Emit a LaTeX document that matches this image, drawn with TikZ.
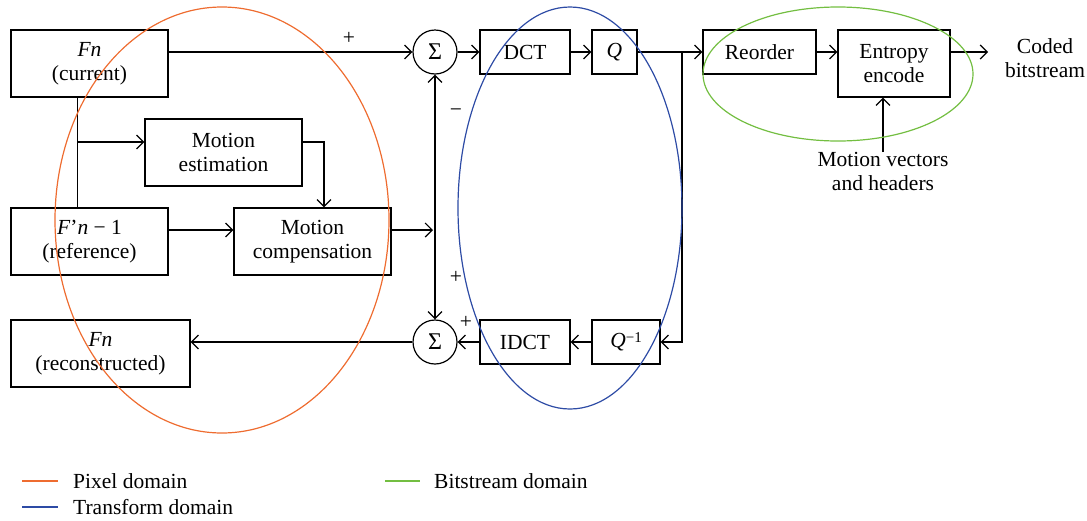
\documentclass[tikz,border=0pt]{standalone}
\usepackage{fontspec}
\setmainfont{Liberation Serif}
\usetikzlibrary{arrows.meta,calc}
\definecolor{pixcol}{RGB}{238,108,48}
\definecolor{trcol}{RGB}{45,75,165}
\definecolor{bitcol}{RGB}{115,190,65}
\begin{document}
\begin{tikzpicture}[x=1pt,y=-1pt,
  txt/.style={font=\fontsize{21.5}{24}\selectfont},
  box/.style={txt,draw,line width=1.2pt,inner sep=0pt,align=center},
  sumnode/.style={txt,draw,circle,line width=1.2pt,minimum size=44pt,inner sep=0pt},
  ln/.style={line width=1.2pt},
  arr/.style={ln,-{Straight Barb[length=7pt,width=14pt,line width=1.2pt]}},
  darr/.style={ln,{Straight Barb[length=7pt,width=14pt,line width=1.2pt]}-{Straight Barb[length=7pt,width=14pt,line width=1.2pt]}},
  lbl/.style={txt,inner sep=0pt},
  dom/.style={line width=1.2pt},
]
\useasboundingbox (0,0) rectangle (1087,520);

% boxes
\node[box,minimum width=157pt,minimum height=67pt] (fc) at (89.5,63.5) {\textit{Fn}\\(current)};
\node[box,minimum width=157pt,minimum height=67pt] (me) at (223.5,152.5) {Motion\\estimation};
\node[box,minimum width=157pt,minimum height=67pt] (fr) at (89.5,241.5) {\textit{F}’\textit{n} − 1\\(reference)};
\node[box,minimum width=157pt,minimum height=67pt] (mc) at (312.5,241.5) {Motion\\compensation};
\node[box,minimum width=179pt,minimum height=67pt] (rc) at (100.5,353.5) {\textit{Fn}\\(reconstructed)};
\node[sumnode] (s1) at (435,52) {\fontsize{24}{24}\selectfont Σ};
\node[sumnode] (s2) at (435,342) {\fontsize{24}{24}\selectfont Σ};
\node[box,minimum width=90pt,minimum height=44pt] (dct) at (525,52) {DCT};
\node[box,minimum width=45pt,minimum height=44pt] (q) at (614.5,52) {\textit{Q}};
\node[box,minimum width=68pt,minimum height=44pt] (iq) at (626,342) {\textit{Q}\raisebox{0.55ex}{\fontsize{15}{15}\selectfont −1}};
\node[box,minimum width=90pt,minimum height=44pt] (idct) at (525,342) {IDCT};
\node[box,minimum width=113pt,minimum height=44pt] (ro) at (759.5,52) {Reorder};
\node[box,minimum width=112pt,minimum height=67pt] (ee) at (894,63.5) {Entropy\\encode};
\node[lbl,align=center] (cb) at (1045,58) {Coded\\bitstream};
\node[lbl,align=center] (mv) at (883,171.5) {Motion vectors\\and headers};

% helper coordinates
\coordinate (fcy) at (fc.east |- s1.west);
\coordinate (j1) at ($(fc.south west)+(67,0)$);
\coordinate (j2) at (j1 |- fr.north);
\coordinate (j3) at (78,142);
\coordinate (mey) at (me.east |- j3);
\coordinate (mek) at (324,142);
\coordinate (frm) at (fr.east |- 0,230);
\coordinate (mcm) at (mc.east |- 0,230);
\coordinate (vin) at (s1.south |- 0,230);
\coordinate (qb) at (682,52);
\coordinate (qb2) at (qb |- iq.east);
\coordinate (eey) at (ee.east |- ro.east);
\coordinate (cbe) at (988,52);

% connectors
\draw[arr] (fcy) -- (s1.west);
\draw[ln] (j1) -- (j2);
\draw[arr] (j3) -- (j3 -| me.west);
\draw[arr] (mey) -- (mek) -- (mek |- mc.north);
\draw[arr] (frm) -- (frm -| mc.west);
\draw[arr,shorten >=2pt] (mcm) -- (vin);
\draw[darr] (s1.south) -- (s2.north);
\draw[arr] (s1.east) -- (dct.west);
\draw[arr] (dct.east) -- (q.west);
\draw[arr] (q.east) -- (ro.west);
\draw[arr] (qb) -- (qb2) -- (iq.east);
\draw[arr] (iq.west) -- (idct.east);
\draw[arr] (idct.west) -- (s2.east);
\draw[arr] (s2.west) -- (s2.west -| rc.east);
\draw[arr] (ro.east) -- (ee.west |- ro.east);
\draw[arr] (eey) -- (cbe);
\draw[arr] (mv.north) -- (mv.north |- ee.south);

% signs
\node[lbl] (p1) at (349,38) {+};
\node[lbl] (m1) at (456,113) {−};
\node[lbl] (p2) at (456,277) {+};
\node[lbl] (p3) at (466,322) {+};

% domains
\draw[dom,pixcol] (222,220) ellipse [x radius=167, y radius=213];
\draw[dom,trcol] (570,208) ellipse [x radius=112, y radius=201];
\draw[dom,bitcol] (838,74) ellipse [x radius=135, y radius=67];

% legend
\draw[dom,pixcol] (22,481) -- (58,481);
\node[lbl,anchor=west] (lg1) at (73,481) {Pixel domain};
\draw[dom,trcol] (22,507) -- (58,507);
\node[lbl,anchor=west] (lg2) at (73,507) {Transform domain};
\draw[dom,bitcol] (385,481) -- (420,481);
\node[lbl,anchor=west] (lg3) at (434,481) {Bitstream domain};
\end{tikzpicture}
\end{document}
